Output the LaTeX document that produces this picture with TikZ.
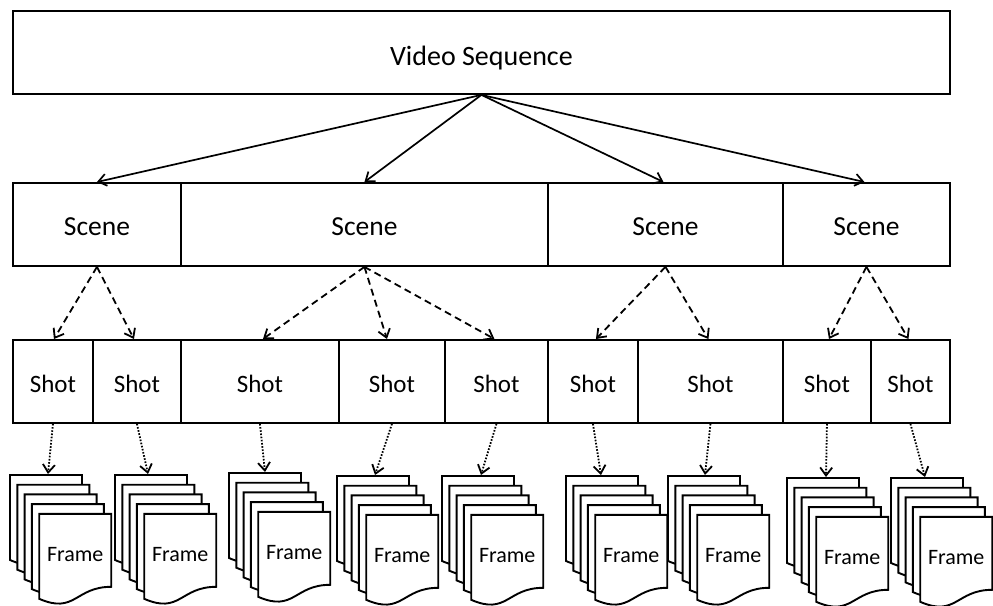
\documentclass[tikz,border=0pt]{standalone}
\usepackage{fontspec}
\setmainfont{Carlito}
\usetikzlibrary{arrows.meta,calc}
\begin{document}
\begin{tikzpicture}[x=1pt,y=-1pt,
  box/.style={draw, line width=1.9pt, inner sep=0pt, anchor=north west, minimum height=83pt},
  vstext/.style={font=\fontsize{28}{30}\selectfont, text height=27pt, text depth=0pt},
  sctext/.style={font=\fontsize{27.5}{30}\selectfont, text height=23pt, text depth=0pt},
  shtext/.style={font=\fontsize{25}{28}\selectfont, text height=22pt, text depth=0pt},
  frtext/.style={font=\fontsize{22}{24}\selectfont, inner sep=0pt},
  tip/.style={-{Straight Barb[length=8pt,width=12pt]}},
  solidarr/.style={tip, line width=1.7pt},
  dasharr/.style={tip, line width=1.8pt, dash pattern=on 7pt off 4.5pt},
  dotarr/.style={tip, line width=1.8pt, dash pattern=on 1.6pt off 1.6pt},
  sheetpath/.style={draw, fill=white, line width=1.9pt, line join=miter},
  fstack/.pic={
    \foreach \k in {0,...,4}{
      \path[sheetpath, xshift=\k*7.3pt, yshift=-\k*9.7pt]
        (0,0) -- (72,0) -- (72,73) .. controls (36,73) and (36,100.7) .. (0,85) -- cycle;
    }
  }
]
\useasboundingbox (0,0) rectangle (993,605);
\fill[white] (0,0) rectangle (993,605);

% top box
\node[box, vstext, minimum width=937pt] (vs) at (12,10) {Video Sequence};

% scenes
\node[box, sctext, minimum width=168pt] (sc1) at (12,182) {Scene};
\node[box, sctext, minimum width=367pt] (sc2) at (180,182) {Scene};
\node[box, sctext, minimum width=235pt] (sc3) at (547,182) {Scene};
\node[box, sctext, minimum width=167pt] (sc4) at (782,182) {Scene};

% shots
\node[box, shtext, minimum width=80pt]  (sh1) at (12,339) {Shot};
\node[box, shtext, minimum width=88pt]  (sh2) at (92,339) {Shot};
\node[box, shtext, minimum width=158pt] (sh3) at (180,339) {Shot};
\node[box, shtext, minimum width=106pt] (sh4) at (338,339) {Shot};
\node[box, shtext, minimum width=103pt] (sh5) at (444,339) {Shot};
\node[box, shtext, minimum width=90pt]  (sh6) at (547,339) {Shot};
\node[box, shtext, minimum width=145pt] (sh7) at (637,339) {Shot};
\node[box, shtext, minimum width=88pt]  (sh8) at (782,339) {Shot};
\node[box, shtext, minimum width=79pt]  (sh9) at (870,339) {Shot};

% frame stacks
\foreach \i/\x/\y/\t in {1/10/475/48, 2/115/475/148, 3/229/473/265, 4/337/476/375, 5/442/476/481,
                         6/566/476/601, 7/668/476/705, 8/787/478/826, 9/891/478/925}{
  \pic at (\x,\y) {fstack};
  \node[frtext] (fr\i) at (\x+29.2+36,\y+38.8+41) {Frame};
  \coordinate (ft\i) at (\t,\y-1);
}

% solid arrows
\draw[solidarr] (vs.south) -- (sc1.north);
\draw[solidarr] (vs.south) -- (sc2.north);
\draw[solidarr] (vs.south) -- ([xshift=-2pt]sc3.north);
\draw[solidarr] (vs.south) -- ([xshift=-2pt]sc4.north);

% dashed arrows
\draw[dasharr] (sc1.south) -- ([xshift=1pt]sh1.north);
\draw[dasharr] (sc1.south) -- ([xshift=-3pt]sh2.north);
\draw[dasharr] (sc2.south) -- ([xshift=3pt]sh3.north);
\draw[dasharr] (sc2.south) -- ([xshift=-5pt]sh4.north);
\draw[dasharr] (sc2.south) -- ([xshift=-2pt]sh5.north);
\draw[dasharr] (sc3.south) -- ([xshift=3pt]sh6.north);
\draw[dasharr] (sc3.south) -- ([xshift=-2pt]sh7.north);
\draw[dasharr] (sc4.south) -- ([xshift=2pt]sh8.north);
\draw[dasharr] (sc4.south) -- ([xshift=-2pt]sh9.north);

% dotted arrows
\foreach \i in {1,...,9}{
  \draw[dotarr] (sh\i.south) -- (ft\i);
}
\end{tikzpicture}
\end{document}
